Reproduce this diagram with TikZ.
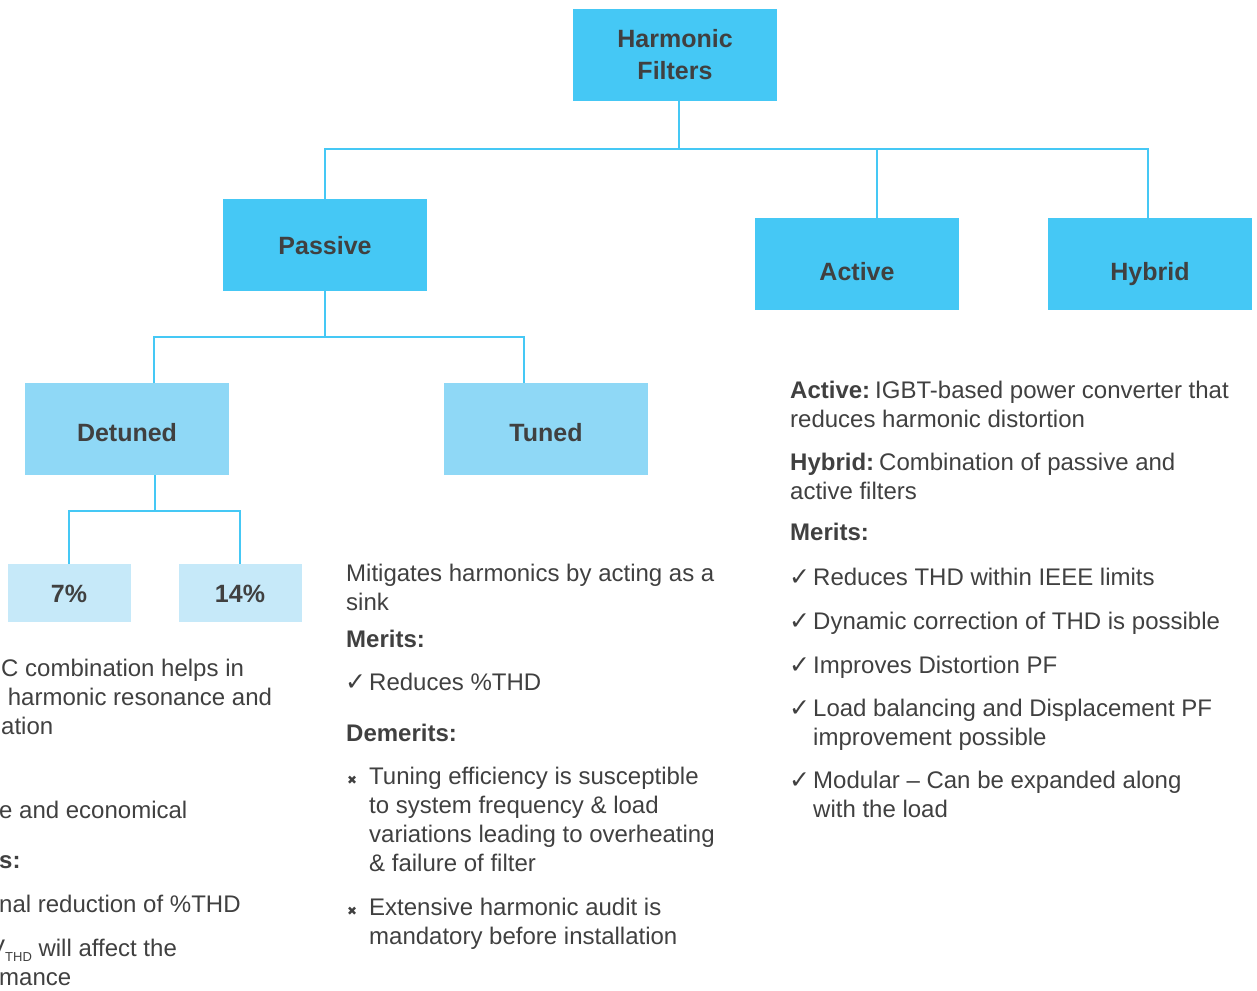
\documentclass[tikz,border=0pt]{standalone}
\usepackage{fontspec}
\setmainfont{Liberation Sans}
\newfontfamily\symfont{DejaVu Sans}
\usetikzlibrary{positioning}

\definecolor{hfblue}{HTML}{45C8F5}
\definecolor{midblue}{HTML}{8FD8F6}
\definecolor{paleblue}{HTML}{C6E9F9}
\definecolor{inkgray}{HTML}{404040}

\begin{document}
\begin{tikzpicture}[
  x=1pt,y=-1pt,
  box/.style={fill=hfblue,minimum width=204pt,minimum height=92pt,inner sep=0pt,
    text=inkgray,font=\fontsize{25}{32}\selectfont\bfseries,align=center,
    text height=22pt,text depth=4pt},
  low box/.style={box,text height=36pt},
  mid box/.style={box,fill=midblue,text height=28pt},
  small box/.style={box,fill=paleblue,minimum width=123pt,minimum height=58pt},
  link/.style={draw=hfblue,line width=2.5pt},
  para/.style={anchor=base west,inner sep=0pt,align=left,text=inkgray,
    font=\fontsize{24}{29}\selectfont},
  head/.style={para,font=\fontsize{24}{29}\selectfont\bfseries},
  tick/.style={anchor=base west,inner sep=0pt,text=inkgray,font=\symfont\fontsize{25}{29}\selectfont},
  cross/.style={anchor=base west,inner sep=0pt,text=inkgray,font=\symfont\fontsize{12}{29}\selectfont}
]
  \useasboundingbox (0,0) rectangle (1257,990);

  % boxes of the tree
  \node[box,text height=,text depth=] (hf) at (675,55) {Harmonic\\Filters};
  \node[box] (passive) at (325,245) {Passive};
  \node[low box] (active) at (857,264) {Active};
  \node[low box] (hybrid) at (1150,264) {Hybrid};
  \node[mid box] (detuned) at (127,429) {Detuned};
  \node[mid box] (tuned) at (546,429) {Tuned};
  \node[small box] (p7) at (69,593) {7\%};
  \node[small box] (p14) at (240,593) {14\%};

  \coordinate (bus1) at (0,149);
  \coordinate (bus2) at (0,337);
  \coordinate (bus3) at (0,511);

  \draw[link] (679,101) -- (679,149);
  \draw[link] (passive.north) |- (1148,149) -- (1148,218);
  \draw[link] (877,149) -- (877,218);
  \draw[link] (passive.south) -- (passive.south |- bus2);
  \draw[link] (154,383) |- (524,337) -- (524,383);
  \draw[link] (155,475) -- (155,511);
  \draw[link] (p7.north) |- (p14.north |- bus3) -- (p14.north);

  % detuned notes, cut at the left edge
  \node[para] (dt1) at (1,734) {C combination helps in\\ \ harmonic resonance and\\ation};
  \node[para] (dt2) at (-1,818) {e and economical};
  \node[head] (dt3) at (-1,868) {s:};
  \node[para] (dt4) at (-1,912) {nal reduction of \%THD};
  \node[para] (dt5) at (-11,985) {V\raisebox{-5pt}{\fontsize{13}{13}\selectfont THD} will affect the\\\hspace*{10pt}mance};

  % tuned notes
  \node[para] (tn1) at (346,610) {Mitigates harmonics by acting as a\\sink};
  \node[head] (tn2) at (346,647) {Merits:};
  \node[tick] (tk1) at (345,690) {✓};
  \node[para] (tn3) at (369,690) {Reduces \%THD};
  \node[head] (tn4) at (346,741) {Demerits:};
  \node[cross] (cr1) at (347,784) {✖};
  \node[para] (tn5) at (369,871) {Tuning efficiency is susceptible\\to system frequency \& load\\variations leading to overheating\\\& failure of filter};
  \node[cross] (cr2) at (347,915) {✖};
  \node[para] (tn6) at (369,944) {Extensive harmonic audit is\\mandatory before installation};

  % active and hybrid notes
  \node[para] (ac1) at (790,427) {\textbf{Active:}\hspace{5pt}IGBT-based power converter that\\reduces harmonic distortion};
  \node[para] (hy1) at (790,499) {\textbf{Hybrid:}\hspace{5pt}Combination of passive and\\active filters};
  \node[head] (ah1) at (790,540) {Merits:};
  \node[tick] (tk2) at (789,585) {✓};
  \node[para] (ah2) at (813,585) {Reduces THD within IEEE limits};
  \node[tick] (tk3) at (789,629) {✓};
  \node[para] (ah3) at (813,629) {Dynamic correction of THD is possible};
  \node[tick] (tk4) at (789,673) {✓};
  \node[para] (ah4) at (813,673) {Improves Distortion PF};
  \node[tick] (tk5) at (789,716) {✓};
  \node[para] (ah5) at (813,745) {Load balancing and Displacement PF\\improvement possible};
  \node[tick] (tk6) at (789,788) {✓};
  \node[para] (ah6) at (813,817) {Modular -- Can be expanded along\\with the load};
\end{tikzpicture}
\end{document}
